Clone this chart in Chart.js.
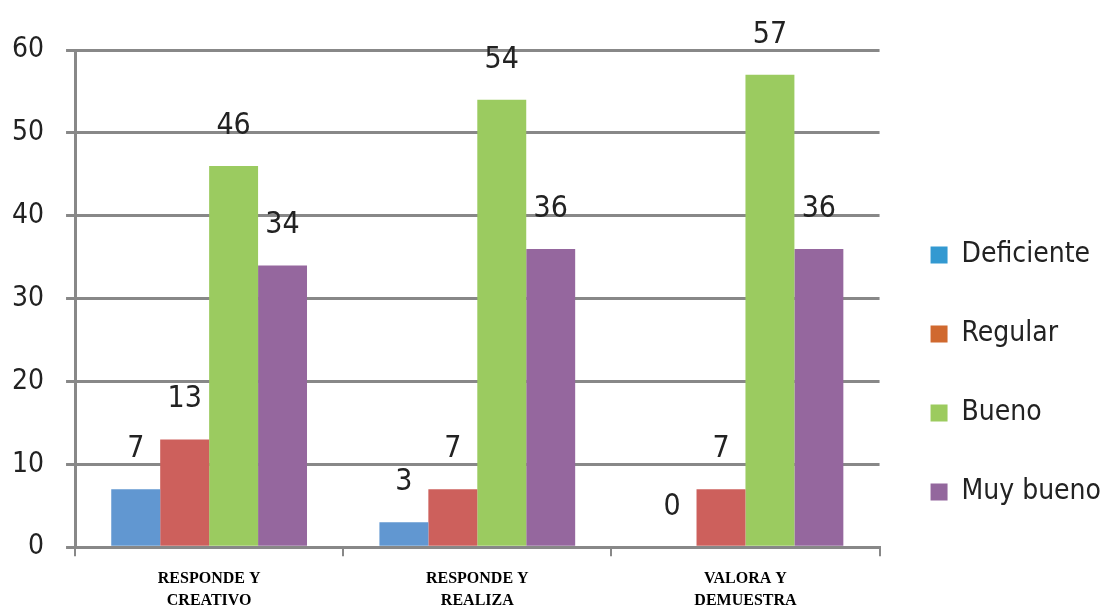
<!DOCTYPE html>
<html>
<head>
<meta charset="utf-8">
<script src="https://cdn.jsdelivr.net/npm/chart.js@4.4.0/dist/chart.umd.min.js"></script>
<style>
  html, body { margin: 0; padding: 0; background: #fff; }
</style>
</head>
<body>
<canvas id="chart" width="1111" height="609"></canvas>
<script>
const categories = [["RESPONDE Y", "CREATIVO"], ["RESPONDE Y", "REALIZA"], ["VALORA Y", "DEMUESTRA"]];
const seriesNames = ["Deficiente", "Regular", "Bueno", "Muy bueno"];
const deficiente = [7, 3, 0];
const regular = [13, 7, 7];
const bueno = [46, 54, 57];
const muyBueno = [34, 36, 36];
const yMin = 0;
const yMax = 60;
const yStep = 10;

const barColors = ["#6197d1", "#cd605c", "#9bcb60", "#95679e"];
const legendColors = ["#3399d1", "#d0692f", "#9ccb5e", "#93679d"];
const sansFont = '"Liberation Sans Narrow", "DejaVu Sans Condensed", "Open Sans", sans-serif';
const gridColor = "#888888";

// numbers over each bar
const valueLabels = {
  id: "valueLabels",
  afterDatasetsDraw(chart) {
    const ctx = chart.ctx;
    ctx.save();
    ctx.font = `30px ${sansFont}`;
    ctx.fillStyle = "#222";
    ctx.textAlign = "center";
    ctx.textBaseline = "bottom";
    chart.data.datasets.forEach((ds, i) => {
      chart.getDatasetMeta(i).data.forEach((bar, j) => {
        ctx.fillText(String(ds.data[j]), bar.x, bar.y - 25);
      });
    });
    ctx.restore();
  },
};

const seriesData = [deficiente, regular, bueno, muyBueno];

new Chart(document.getElementById("chart"), {
  type: "bar",
  data: {
    labels: categories,
    datasets: seriesNames.map((name, i) => ({
      label: name,
      data: seriesData[i],
      backgroundColor: barColors[i],
      borderWidth: 0,
      barPercentage: 1,
      categoryPercentage: 0.73,
    })),
  },
  options: {
    responsive: false,
    animation: false,
    layout: { padding: { left: -10, top: 50, right: 0, bottom: -14 } },
    plugins: {
      tooltip: { enabled: false },
      legend: {
        position: "right",
        title: { display: true, text: " ", padding: { top: 0, bottom: 62 }, font: { size: 10 } },
        labels: {
          font: { family: sansFont, size: 28 },
          color: "#222",
          boxWidth: 17,
          boxHeight: 17,
          padding: 51,
          generateLabels(chart) {
            return chart.data.datasets.map((ds, i) => ({
              text: ds.label,
              fillStyle: legendColors[i],
              strokeStyle: legendColors[i],
              lineWidth: 0,
              datasetIndex: i,
              fontColor: "#222",
            }));
          },
        },
      },
    },
    scales: {
      x: {
        grid: { display: true, drawOnChartArea: false, color: gridColor, lineWidth: 2, tickLength: 9, offset: true },
        border: { color: gridColor, width: 3 },
        ticks: {
          color: "#000",
          padding: 11,
          maxRotation: 0,
          font: { family: '"Liberation Serif", "DejaVu Serif", serif', size: 16, weight: "bold", lineHeight: 1.4 },
        },
      },
      y: {
        min: yMin,
        max: yMax,
        ticks: { stepSize: yStep, color: "#222", padding: 22, font: { family: sansFont, size: 28 } },
        grid: { color: gridColor, lineWidth: 3, tickLength: 9 },
        border: { color: gridColor, width: 3 },
      },
    },
  },
  plugins: [valueLabels],
});
</script>
</body>
</html>
